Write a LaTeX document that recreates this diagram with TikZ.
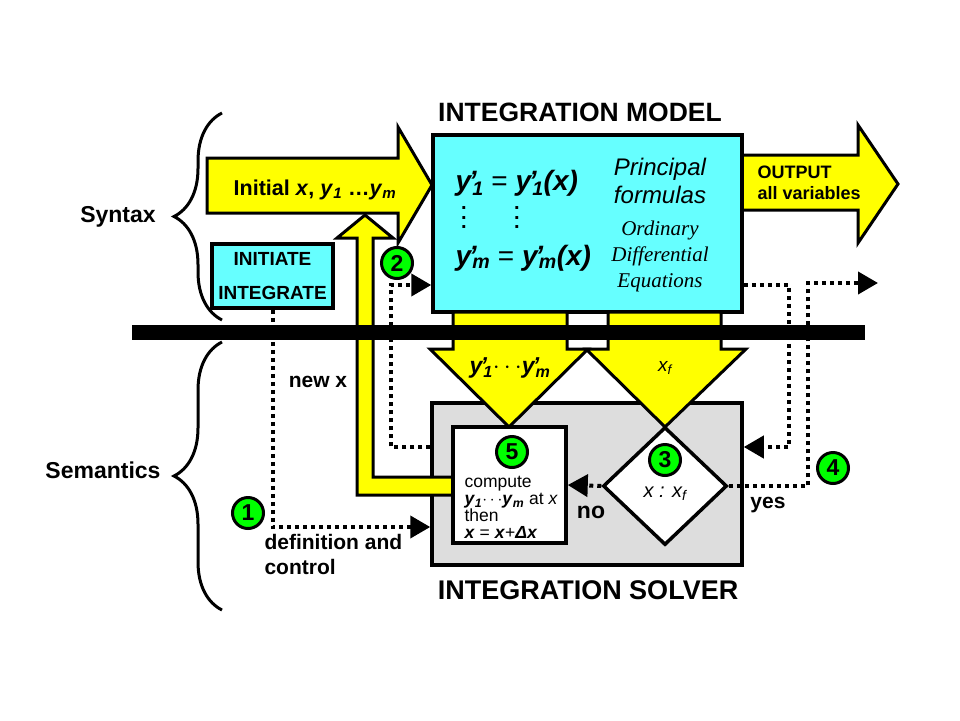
\documentclass[tikz,border=0pt]{standalone}
\usepackage{fontspec}
\setmainfont{Liberation Sans}
\newfontfamily\tms{Liberation Serif}
\usetikzlibrary{arrows.meta,shapes.geometric,decorations.pathreplacing,calc}
\definecolor{ylw}{HTML}{FFFF00}
\definecolor{cyn}{HTML}{66FFFF}
\definecolor{gry}{HTML}{DDDDDD}
\definecolor{grn}{HTML}{00FF00}
\newcommand\fsz[2]{\fontsize{#1}{#2}\selectfont}
\newcommand\bi[1]{\textbf{\textit{#1}}}
\newcommand\yp[1]{\bi{y}\rlap{\kern-0.12em\raisebox{-0.02em}{\bi{’}}}\textsubscript{\bi{#1}}}
\begin{document}
\begin{tikzpicture}[x=1pt,y=-1pt,
  box/.style={draw,line width=3.5pt,inner sep=0pt},
  yarrow/.style={fill=ylw,draw,line width=3pt,line join=miter},
  dotconn/.style={line width=4pt,dash pattern=on 4pt off 4pt,-{Triangle[length=20pt,width=22pt]}},
  num/.style={circle,fill=grn,draw,line width=3pt,minimum size=31pt,inner sep=0pt,font=\fsz{23}{23}\bfseries},
  brc/.style={draw,line width=3pt,decorate,decoration={brace,amplitude=48pt}},
  lbl/.style={font=\fsz{23}{23}\bfseries},
  title/.style={font=\fsz{26.5}{26.5}\bfseries},
  vdts/.style={font=\fsz{20}{9.5}\bfseries,align=center,inner sep=0pt}
]
\useasboundingbox (0,0) rectangle (960,720);

% braces
\draw[brc] (222,320) -- (222,113);
\draw[brc] (222,610) -- (222,342);
\node[lbl] (syn) at (118,217) {Syntax};
\node[lbl] (sem) at (103,470) {Semantics};

% initial arrow
\draw[yarrow] (207,158) -- (398,158) -- (398,127) -- (432,185) -- (398,243) -- (398,213) -- (207,213) -- cycle;
\node[font=\fsz{21.5}{22}\bfseries] (initlbl) at (315,190) {Initial \bi{x}, \bi{y}\textsubscript{\bi{1}} …\bi{y}\textsubscript{\bi{m}}};

% output arrow
\draw[yarrow] (742,155) -- (858,155) -- (858,125) -- (898,184) -- (858,243) -- (858,210) -- (742,210) -- cycle;
\node[font=\fsz{18}{21}\bfseries,align=left,anchor=west] (outlbl) at (754,183) {OUTPUT\\all variables};

% model box
\node[box,fill=cyn,minimum width=309pt,minimum height=177pt] (model) at (587.5,223.5) {};
\node[title] (mtitle) at (580,112) {INTEGRATION MODEL};
\node[anchor=west,font=\fsz{28}{28}] (eq1) at (452,183) {\yp{1} = \yp{1}\bi{(x)}};
\node[anchor=west,font=\fsz{28}{28}] (eq2) at (452,258) {\yp{m} = \yp{m}\bi{(x)}};
\node[vdts] (vd1) at (464,218) {.\\.\\.};
\node[vdts] (vd2) at (517,218) {.\\.\\.};
\node[font=\fsz{24}{28}\itshape,align=center] (pf) at (660,181) {Principal\\formulas};
\node[font=\fsz{21}{26}\tms\itshape,align=center] (ode) at (660,256) {Ordinary\\Differential\\Equations};

% initiate box
\node[box,fill=cyn,minimum width=121pt,minimum height=64pt,align=center,font=\fsz{19}{34}\bfseries] (init) at (272.5,276) {INITIATE\\INTEGRATE};

% solver box
\node[box,fill=gry,minimum width=310pt,minimum height=162pt] (solver) at (587,484) {};
\node[font=\fsz{27}{27}\bfseries] (stitle) at (588,590) {INTEGRATION SOLVER};

% dotted connectors
\draw[dotconn] (init.south) |- (solver.west |- 0,527);
\draw[dotconn] (solver.west |- 0,447) -| (391,285) -- (model.west |- 0,285);
\draw[dotconn] (model.east |- 0,285) -| (789,447) -- (solver.east |- 0,447);
\coordinate (outend) at (878,283);

% down arrows
\draw[yarrow] (453,312) -- (567,312) -- (567,349) -- (588,349) -- (509,427) -- (430,349) -- (453,349) -- cycle;
\draw[yarrow] (608,312) -- (721,312) -- (721,349) -- (746,349) -- (665,427) -- (586,349) -- (608,349) -- cycle;
\node[font=\fsz{23}{23}] (ylbl) at (510,368) {\yp{1}$\cdots$\yp{m}};
\node[font=\fsz{19}{19}\itshape] (xflbl) at (665,368) {x\textsubscript{f}};

% new x arrow
\draw[yarrow] (455,477) -- (373,477) -- (373,238) -- (393,238) -- (365,215) -- (337,238) -- (357,238) -- (357,495) -- (455,495) -- cycle;
\node[font=\fsz{21}{21}\bfseries] (newx) at (318,382) {new x};

% compute box and diamond
\node[box,fill=white,minimum width=113pt,minimum height=116pt] (compute) at (509.5,485) {};
\node[anchor=north west,align=left,font=\fsz{17.5}{16.8}] (ctext) at (461,473) {compute\\\bi{y}\textsubscript{\bi{1}}$\cdots$\bi{y}\textsubscript{\bi{m}} at \textit{x}\\then\\\bi{x} = \bi{x}+\bi{Δx}};
\node[box,diamond,fill=white,minimum width=124pt,minimum height=118pt] (dia) at (665,486) {};
\node[font=\fsz{20}{20}\itshape] (dtext) at (665,494) {x : x\textsubscript{f}};

% bar
\fill (132,325) rectangle (865,340);

% remaining dotted
\draw[dotconn] (dia.east) -| (808,283) -- (outend);
\draw[dotconn] (dia.west) -- (compute.east);

% labels
\node[font=\fsz{23}{23}\bfseries] (no) at (591,512) {no};
\node[font=\fsz{21}{21}\bfseries] (yes) at (768,505) {yes};
\node[font=\fsz{21}{25}\bfseries,align=left,anchor=north west] (defc) at (261,531) {definition and\\control};

% numbered circles
\node[num] (c1) at (248,513) {1};
\node[num] (c2) at (397,263) {2};
\node[num] (c3) at (665,460) {3};
\node[num] (c4) at (833,468) {4};
\node[num] (c5) at (512,452) {5};
\end{tikzpicture}
\end{document}
